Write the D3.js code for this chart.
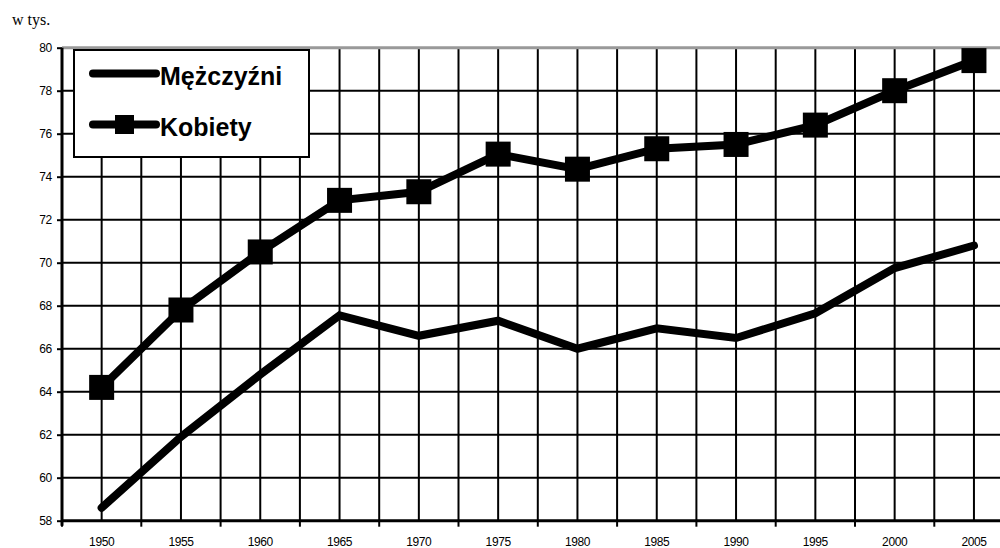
<!DOCTYPE html>
<html>
<head>
<meta charset="utf-8">
<script src="https://cdn.jsdelivr.net/npm/d3@7"></script>
<style>
    body { margin: 0; background: #fff; }
    svg { display: block; font-family: "Liberation Sans", Arial, sans-serif; }
</style>
</head>
<body>
<div id="chart"></div>
<script>
let years = ['1950', '1955', '1960', '1965', '1970', '1975', '1980', '1985', '1990', '1995', '2000', '2005'];
let men = [58.6, 61.9, 64.8, 67.55, 66.6, 67.3, 66.0, 66.95, 66.5, 67.65, 69.75, 70.8];
let women = [64.2, 67.8, 70.5, 72.9, 73.3, 75.05, 74.35, 75.3, 75.5, 76.4, 78.0, 79.4];
let yTicks = [58, 60, 62, 64, 66, 68, 70, 72, 74, 76, 78, 80];
let seriesNames = ['Mężczyźni', 'Kobiety'];
let unitLabel = 'w tys.';

(function () {
    let width = 1000, height = 548,
        left = 62, top = 47.7, bottom = 520.7,
        step = 79.3;

    let svg = d3.select('#chart').append('svg')
        .attr('width', width)
        .attr('height', height);

    let x = d3.scaleBand()
        .domain(years)
        .range([left, left + step * years.length]);

    let y = d3.scaleLinear()
        .domain([58, 80])
        .range([bottom, top]);

    let cx = d => x(d) + x.bandwidth() / 2;

    // vertical grid: category centres and category boundaries
    let vLines = years.map(cx).concat(years.map(d => x(d)).slice(1));
    svg.append('g').selectAll('line')
        .data(vLines)
        .enter().append('line')
        .attr('x1', d => d).attr('x2', d => d)
        .attr('y1', y(80)).attr('y2', y(58))
        .style('stroke', '#000')
        .style('stroke-width', 2);

    // horizontal grid
    svg.append('g').selectAll('line')
        .data(yTicks.filter(v => v > 58))
        .enter().append('line')
        .attr('x1', left).attr('x2', width)
        .attr('y1', d => y(d)).attr('y2', d => y(d))
        .style('stroke', d => d === 80 ? '#999' : '#000')
        .style('stroke-width', d => d === 80 ? 3 : 2);

    // y axis
    let yAxis = d3.axisLeft(y)
        .tickValues(yTicks)
        .tickSize(5)
        .tickPadding(5);
    let gy = svg.append('g')
        .attr('transform', 'translate(' + left + ',0)')
        .call(yAxis);
    gy.select('.domain').remove();
    gy.append('line')
        .attr('x1', 0).attr('x2', 0)
        .attr('y1', y(80)).attr('y2', y(58) + 5)
        .style('stroke', '#000').style('stroke-width', 3);
    gy.selectAll('.tick line').style('stroke', '#000').style('stroke-width', 2);
    gy.selectAll('.tick text')
        .style('font-size', '12px')
        .style('letter-spacing', '-0.3px')
        .style('fill', '#000');

    // x axis
    let xAxis = d3.axisBottom(x).tickSize(0).tickPadding(17);
    let gx = svg.append('g')
        .attr('transform', 'translate(0,' + bottom + ')')
        .call(xAxis);
    gx.select('.domain').remove();
    gx.selectAll('.tick text')
        .style('font-size', '12px')
        .style('letter-spacing', '-0.4px')
        .style('fill', '#000');
    gx.append('line')
        .attr('x1', left).attr('x2', width)
        .attr('y1', 0).attr('y2', 0)
        .style('stroke', '#000').style('stroke-width', 3);
    gx.selectAll('.bound')
        .data(years.map(d => x(d)).concat([x.range()[1]]))
        .enter().append('line')
        .attr('x1', d => d).attr('x2', d => d)
        .attr('y1', 0).attr('y2', 6)
        .style('stroke', '#000').style('stroke-width', 2);

    let line = d3.line()
        .x((d, i) => cx(years[i]))
        .y(d => y(d));

    [men, women].forEach(s => {
        svg.append('path')
            .datum(s)
            .attr('d', line)
            .style('fill', 'none')
            .style('stroke', '#000')
            .style('stroke-width', 8)
            .style('stroke-linejoin', 'miter')
            .style('stroke-linecap', 'round');
    });

    let ms = 25;
    svg.append('g').selectAll('rect')
        .data(women)
        .enter().append('rect')
        .attr('x', (d, i) => cx(years[i]) - ms / 2)
        .attr('y', d => y(d) - ms / 2)
        .attr('width', ms)
        .attr('height', ms)
        .style('fill', '#000');

    // legend
    let lg = svg.append('g');
    lg.append('rect')
        .attr('x', 74).attr('y', 50)
        .attr('width', 235).attr('height', 107)
        .style('fill', '#fff')
        .style('stroke', '#000')
        .style('stroke-width', 2);

    seriesNames.forEach((name, i) => {
        let ly = 73.5 + i * 51;
        lg.append('line')
            .attr('x1', 93).attr('x2', 156)
            .attr('y1', ly).attr('y2', ly)
            .style('stroke', '#000')
            .style('stroke-width', 8)
            .style('stroke-linecap', 'round');
        if (i === 1) {
            lg.append('rect')
                .attr('x', 115).attr('y', ly - 9.5)
                .attr('width', 19).attr('height', 19)
                .style('fill', '#000');
        }
        lg.append('text')
            .attr('x', 160).attr('y', ly + 11.5)
            .style('font-size', '25px')
            .style('font-weight', 'bold')
            .text(name);
    });

    svg.append('text')
        .attr('x', 12).attr('y', 25)
        .style('font-family', '"Liberation Serif", "Times New Roman", serif')
        .style('font-size', '16px')
        .text(unitLabel);
})();
</script>
</body>
</html>
